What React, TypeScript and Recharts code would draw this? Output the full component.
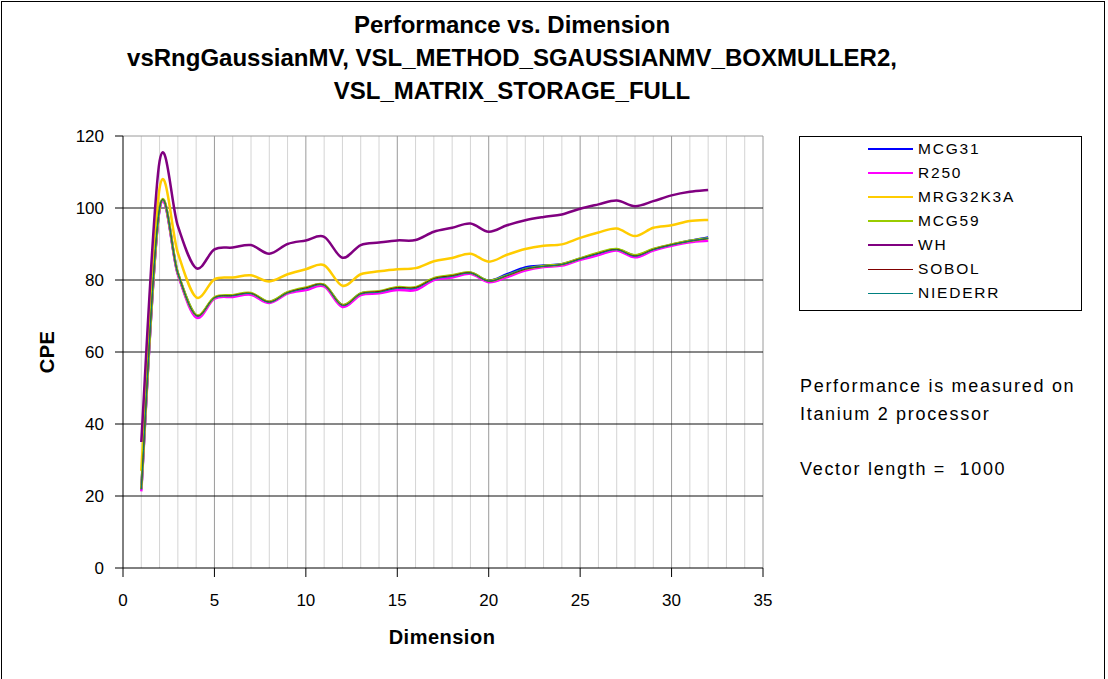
import React from 'react';
import { LineChart, Line, XAxis, YAxis, CartesianGrid, Legend } from 'recharts';

const dimensions = [1, 2, 3, 4, 5, 6, 7, 8, 9, 10, 11, 12, 13, 14, 15, 16, 17, 18, 19, 20, 21, 22, 23, 24, 25, 26, 27, 28, 29, 30, 31, 32];

const mcg31 = [21.8, 99.8, 81.8, 70.1, 75.0, 75.6, 76.2, 73.9, 76.5, 77.7, 78.6, 73.0, 76.2, 76.7, 77.8, 77.8, 80.3, 81.1, 82.0, 79.8, 81.6, 83.5, 84.0, 84.4, 85.9, 87.4, 88.5, 86.8, 88.5, 89.8, 90.9, 91.8];
const r250 = [21.3, 99.5, 81.5, 69.6, 74.8, 75.3, 75.9, 73.6, 76.2, 77.2, 78.2, 72.5, 75.8, 76.3, 77.2, 77.2, 80.0, 80.7, 81.7, 79.4, 80.8, 82.6, 83.6, 84.0, 85.6, 86.9, 88.2, 86.3, 88.2, 89.5, 90.5, 90.9];
const mrg32k3a = [27.0, 105.5, 87.5, 75.2, 80.2, 80.7, 81.3, 79.6, 81.6, 83.0, 84.1, 78.4, 81.6, 82.4, 83.0, 83.3, 85.2, 86.1, 87.3, 85.1, 87.0, 88.6, 89.5, 89.9, 91.7, 93.2, 94.3, 92.2, 94.5, 95.2, 96.4, 96.7];
const mcg59 = [22.0, 100.0, 82.0, 70.3, 75.2, 75.8, 76.4, 74.0, 76.6, 77.9, 78.7, 73.1, 76.3, 76.9, 78.0, 78.0, 80.5, 81.3, 82.1, 79.8, 81.3, 83.1, 83.9, 84.4, 86.0, 87.6, 88.6, 86.9, 88.6, 89.9, 90.9, 91.6];
const wh = [35.0, 113.0, 95.0, 83.3, 88.5, 89.0, 89.7, 87.3, 90.0, 91.0, 92.0, 86.2, 89.7, 90.4, 91.0, 91.1, 93.4, 94.5, 95.7, 93.4, 95.2, 96.6, 97.5, 98.2, 99.8, 101.0, 102.1, 100.5, 101.9, 103.5, 104.5, 105.0];
const sobol = [21.9, 99.9, 81.9, 70.2, 75.1, 75.7, 76.3, 73.9, 76.5, 77.8, 78.6, 73.0, 76.2, 76.8, 77.9, 77.9, 80.4, 81.2, 82.0, 79.7, 81.2, 83.0, 83.8, 84.3, 85.9, 87.4, 88.5, 86.7, 88.5, 89.8, 90.8, 91.5];
const niederr = [21.8, 99.8, 81.8, 70.1, 75.0, 75.6, 76.2, 73.8, 76.4, 77.6, 78.5, 72.9, 76.1, 76.6, 77.7, 77.7, 80.2, 81.0, 81.9, 79.7, 81.3, 83.2, 83.8, 84.3, 85.8, 87.3, 88.4, 86.6, 88.4, 89.7, 90.8, 91.6];

const seriesNames = ['MCG31', 'R250', 'MRG32K3A', 'MCG59', 'WH', 'SOBOL', 'NIEDERR'];
const seriesValues = [mcg31, r250, mrg32k3a, mcg59, wh, sobol, niederr];
const seriesColors = ['#0000FF', '#FF00FF', '#FFCC00', '#99CC00', '#800080', '#800000', '#008080'];
const seriesWidths = [2.5, 2.5, 2.5, 2.5, 2.5, 1, 1];

const xTicks = [0, 5, 10, 15, 20, 25, 30, 35];
const yTicks = [0, 20, 40, 60, 80, 100, 120];
const minorGridX = [1, 2, 3, 4, 6, 7, 8, 9, 11, 12, 13, 14, 16, 17, 18, 19, 21, 22, 23, 24, 26, 27, 28, 29, 31, 32, 33, 34];
const majorGridX = [5, 10, 15, 20, 25, 30, 35];
const majorGridY = [20, 40, 60, 80, 100];
const topGridY = [120];

const titleLines = [
  'Performance vs. Dimension',
  'vsRngGaussianMV, VSL_METHOD_SGAUSSIANMV_BOXMULLER2,',
  'VSL_MATRIX_STORAGE_FULL',
];
const xTitle = 'Dimension';
const yTitle = 'CPE';
const noteLines = ['Performance is measured on', 'Itanium 2 processor', '', 'Vector length =  1000'];

const data = dimensions.map((d, i) => {
  const row: Record<string, number> = { dim: d };
  seriesNames.forEach((n, k) => {
    row[n] = seriesValues[k][i];
  });
  return row;
});

// Excel-like smoothing (Catmull-Rom through the points)
function excelSmooth(context: any) {
  let pts: number[][] = [];
  return {
    areaStart() {},
    areaEnd() {},
    lineStart() {
      pts = [];
    },
    lineEnd() {
      const n = pts.length;
      if (!n) return;
      context.moveTo(pts[0][0], pts[0][1]);
      if (n === 2) {
        context.lineTo(pts[1][0], pts[1][1]);
        return;
      }
      for (let i = 0; i < n - 1; i++) {
        const p0 = pts[i === 0 ? 0 : i - 1];
        const p1 = pts[i];
        const p2 = pts[i + 1];
        const p3 = pts[i + 2 < n ? i + 2 : n - 1];
        context.bezierCurveTo(
          p1[0] + (p2[0] - p0[0]) / 6,
          p1[1] + (p2[1] - p0[1]) / 6,
          p2[0] - (p3[0] - p1[0]) / 6,
          p2[1] - (p3[1] - p1[1]) / 6,
          p2[0],
          p2[1]
        );
      }
    },
    point(x: number, y: number) {
      pts.push([x, y]);
    },
  };
}

const FONT = '"Liberation Sans", Arial, sans-serif';

const renderLegend = () => {
  return (
    <div
      style={{
        position: 'relative',
        width: 283,
        height: 175,
        border: '1px solid #000',
        boxSizing: 'border-box',
        background: '#fff',
        fontFamily: FONT,
      }}
    >
      {seriesNames.map((name, i) => (
        <div key={name} style={{ position: 'absolute', left: 0, top: 2 + i * 24, height: 20, width: 283 }}>
          <div
            style={{
              position: 'absolute',
              left: 68,
              top: seriesWidths[i] > 1 ? 9 : 10,
              width: 45,
              height: seriesWidths[i] > 1 ? 2 : 1,
              background: seriesColors[i],
            }}
          />
          <div
            style={{
              position: 'absolute',
              left: 118,
              top: 0,
              lineHeight: '20px',
              fontSize: 15.5,
              letterSpacing: 1.8,
              color: '#000',
              whiteSpace: 'nowrap',
            }}
          >
            {name}
          </div>
        </div>
      ))}
    </div>
  );
};

export default function App() {
  return (
    <div
      style={{
        position: 'fixed',
        left: 0,
        top: 0,
        width: 1108,
        height: 679,
        background: '#fff',
        overflow: 'hidden',
        fontFamily: FONT,
      }}
    >
      <div
        style={{
          position: 'absolute',
          left: 1,
          top: 1,
          width: 1104,
          height: 720,
          border: '1px solid #000',
          boxSizing: 'border-box',
        }}
      />
      {titleLines.map((t, i) => (
        <div
          key={i}
          style={{
            position: 'absolute',
            left: 0,
            width: 1024,
            top: 25 + i * 33 - 14,
            lineHeight: '28px',
            textAlign: 'center',
            fontSize: 24,
            fontWeight: 'bold',
            color: '#000',
            whiteSpace: 'nowrap',
          }}
        >
          {t}
        </div>
      ))}
      <div style={{ position: 'absolute', left: 0, top: 0 }}>
        <LineChart
          width={1108}
          height={679}
          data={data}
          margin={{ top: 136, right: 345, left: 63, bottom: 71 }}
        >
          <CartesianGrid horizontal={false} verticalValues={minorGridX} stroke="#d4d4d4" />
          <CartesianGrid horizontal={false} verticalValues={majorGridX} stroke="#9a9a9a" />
          <CartesianGrid vertical={false} horizontalValues={topGridY} stroke="#9a9a9a" />
          <CartesianGrid vertical={false} horizontalValues={majorGridY} stroke="#111" />
          <XAxis
            dataKey="dim"
            type="number"
            domain={[0, 35]}
            ticks={xTicks}
            interval={0}
            height={40}
            tickSize={9}
            tickMargin={17}
            axisLine={{ stroke: '#000' }}
            tickLine={{ stroke: '#000' }}
            tick={{ fill: '#000', fontSize: 17, fontFamily: FONT }}
          />
          <YAxis
            type="number"
            domain={[0, 120]}
            ticks={yTicks}
            interval={0}
            width={60}
            tickSize={8}
            tickMargin={11}
            axisLine={{ stroke: '#000' }}
            tickLine={{ stroke: '#000' }}
            tick={{ fill: '#000', fontSize: 17, fontFamily: FONT }}
          />
          <Legend
            layout="vertical"
            align="center"
            verticalAlign="middle"
            content={renderLegend}
            wrapperStyle={{ position: 'absolute', left: 799, top: 136, width: 283, height: 175, margin: 0 }}
          />
          {seriesNames.map((n, k) => (
            <Line
              key={n}
              dataKey={n}
              name={n}
              type={excelSmooth as any}
              stroke={seriesColors[k]}
              strokeWidth={seriesWidths[k]}
              dot={false}
              activeDot={false}
              isAnimationActive={false}
            />
          ))}
        </LineChart>
      </div>
      <div
        style={{
          position: 'absolute',
          left: 47 - 30,
          top: 352 - 12,
          width: 60,
          lineHeight: '24px',
          textAlign: 'center',
          fontSize: 20,
          fontWeight: 'bold',
          letterSpacing: 0.5,
          transform: 'rotate(-90deg)',
          color: '#000',
        }}
      >
        {yTitle}
      </div>
      <div
        style={{
          position: 'absolute',
          left: 442 - 80,
          top: 637 - 12,
          width: 160,
          lineHeight: '24px',
          textAlign: 'center',
          fontSize: 20,
          fontWeight: 'bold',
          letterSpacing: 0.5,
          color: '#000',
        }}
      >
        {xTitle}
      </div>
      {noteLines.map((t, i) => (
        <div
          key={i}
          style={{
            position: 'absolute',
            left: 800,
            top: 386 + i * 27.7 - 11,
            lineHeight: '22px',
            fontSize: 18,
            letterSpacing: 1.7,
            color: '#000',
            whiteSpace: 'pre',
          }}
        >
          {t}
        </div>
      ))}
    </div>
  );
}
